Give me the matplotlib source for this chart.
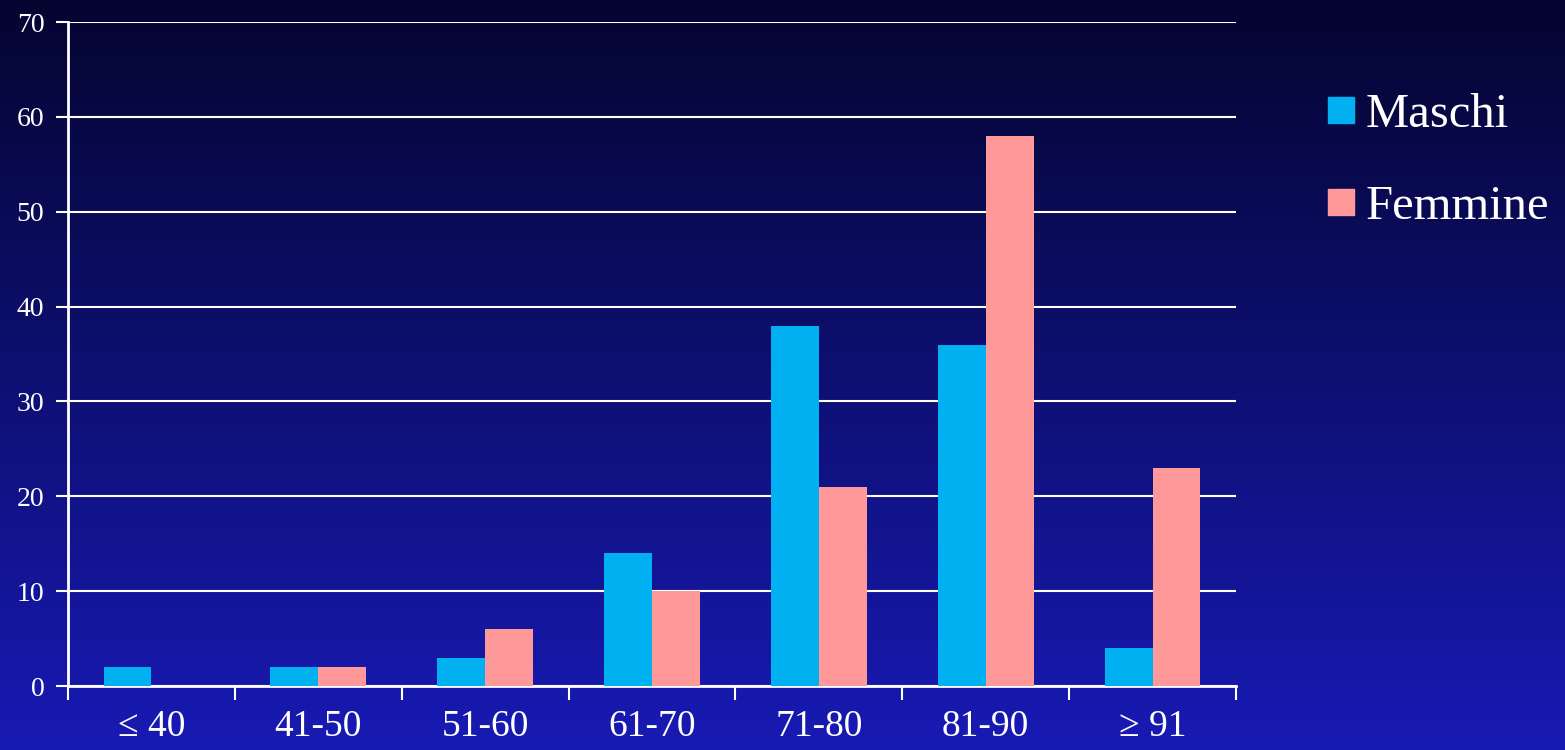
import numpy as np
import matplotlib.pyplot as plt
from matplotlib.ticker import MultipleLocator
from matplotlib.patches import Rectangle

categories = ["≤ 40", "41-50", "51-60", "61-70", "71-80", "81-90", "≥ 91"]
serie = ["Maschi", "Femmine"]
maschi = [2, 2, 3, 14, 38, 36, 4]
femmine = [0, 2, 6, 10, 21, 58, 23]
colori = ['#00B0F0', '#FF9999']

plt.rcParams['font.family'] = ['Liberation Serif', 'DejaVu Serif']

W, H = 1565, 750
fig = plt.figure(figsize=(W / 100, H / 100), dpi=100)

# sfondo sfumato
bg = fig.add_axes([0, 0, 1, 1], zorder=-10)
top = np.array([4, 5, 48]) / 255
bottom = np.array([24, 26, 180]) / 255
t = np.linspace(0, 1, 256)[:, None]
grad = top[None, :] * (1 - t) + bottom[None, :] * t
bg.imshow(grad[:, None, :], aspect='auto', extent=[0, 1, 0, 1])
bg.axis('off')

ax = fig.add_axes([68/W, 1 - 686/H, (1236 - 68)/W, (686 - 22)/H])
ax.set_facecolor('none')

x = np.arange(len(categories))
w = 0.287
ax.bar(x - w/2, maschi, w, color=colori[0], zorder=3)
ax.bar(x + w/2, femmine, w, color=colori[1], zorder=3)

ax.set_xlim(-0.5, len(categories) - 0.5)
ax.set_ylim(0, 70)
ax.yaxis.set_major_locator(MultipleLocator(10))
ax.grid(axis='y', color='white', linewidth=1.5, zorder=1)
ax.set_axisbelow(True)

for s in ['top', 'right']:
    ax.spines[s].set_visible(False)
for s in ['left', 'bottom']:
    ax.spines[s].set_color('white')
    ax.spines[s].set_linewidth(2)

ax.set_xticks(x)
ax.set_xticklabels(categories, fontsize=27, color='white')
ax.tick_params(axis='x', which='major', length=0, pad=17)
ax.set_xticks(np.arange(-0.5, len(categories)), minor=True)
ax.tick_params(axis='x', which='minor', length=10, width=1.5, color='white', direction='out')
ax.tick_params(axis='y', length=9, width=1.5, color='white', labelsize=20, labelcolor='white', pad=8)

# legenda disegnata a mano
for i, (nome, col) in enumerate(zip(serie, colori)):
    yc = 110 + i * 92
    fig.add_artist(Rectangle((1328/W, 1 - (yc + 13)/H), 26/W, 26/H,
                             transform=fig.transFigure, color=col))
    fig.text(1366/W, 1 - (yc + 17)/H, nome, fontsize=35, color='white', va='baseline')

fig.savefig('out.png', dpi=100)
